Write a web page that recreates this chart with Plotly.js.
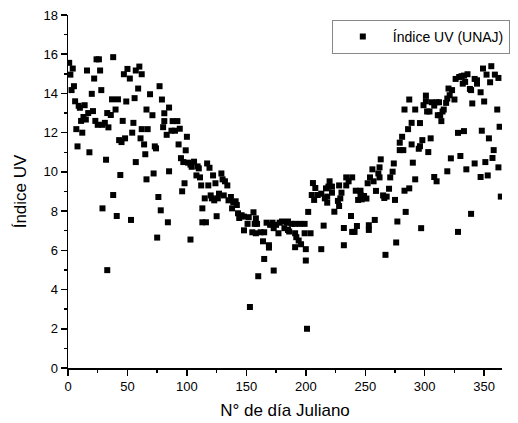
<!DOCTYPE html>
<html>
<head>
<meta charset="utf-8">
<script src="https://cdn.plot.ly/plotly-3.0.1.min.js"></script>
<style>html,body{margin:0;padding:0;background:#fff;}#chart{width:518px;height:423px;}</style>
</head>
<body>
<div id="chart"></div>
<script>
// Day of year (Julian day) and UV index readings, grouped by part of the year
const daysA = [1,4,2,5,3,6,9,10,14,17,21,13,15,11,7,12,8,18,16,24,26,22,27,20,28,23,25,29,31,34,37,42,40,33,36,46,49,38,47,50,52,57,60,62,59,56,55,54,62,67,66,69,43,45,48,61,64,65,57,32,44,66,38,29,41,53,33];
const uvA = [15.56,15.27,14.96,14.37,14.17,13.6,13.37,13.27,13.4,13.0,13.1,12.8,12.67,12.6,12.18,12.0,11.3,11.0,15.17,15.74,15.74,14.76,15.17,13.98,14.17,12.6,12.4,12.4,12.5,12.27,13.7,13.7,13.18,13.0,12.9,12.6,13.59,15.85,14.98,15.25,14.76,15.17,15.37,14.98,14.25,13.76,12.5,12.0,12.18,12.18,13.18,13.96,11.62,11.52,11.71,11.71,11.4,10.9,10.5,10.62,9.84,9.62,8.82,8.14,7.75,7.55,4.99];

const daysB = [77,79,85,81,71,81,88,92,80,87,90,94,83,100,73,74,93,99,95,97,101,103,106,104,109,110,117,119,108,111,122,129,130,132,134,124,118,112,98,96,72,85,76,78,84,75,103,113,113,116,125,115,120,123,127,126,131,135,137,139,141,138,142,143,144,121];
const uvB = [14.37,13.69,13.28,12.99,12.89,12.59,12.59,12.59,12.28,12.1,12.1,12.2,11.89,11.79,11.3,11.2,11.4,11.1,10.7,10.5,10.47,10.37,10.52,10.26,10.28,10.18,10.43,10.21,9.82,9.72,9.82,9.92,9.62,9.52,9.31,9.42,9.31,9.31,9.42,9.01,9.92,10.03,8.72,8.04,7.43,6.65,6.55,8.14,7.43,7.43,7.74,8.65,8.8,8.55,8.89,8.65,8.8,8.55,8.72,8.45,8.5,8.14,8.31,7.89,7.65,8.65];

const daysC = [146,148,152,156,158,151,148,155,157,159,158,162,165,167,170,172,175,178,180,184,185,188,191,195,199,173,177,182,185,186,191,192,194,196,199,204,191,200,164,169,169,165,173,160,200,153,201,202,206,208,205,207,210,213,216,217,215,213];
const uvC = [7.79,7.72,7.69,7.94,7.63,7.35,7.02,6.92,7.35,7.35,6.87,6.92,6.92,7.41,7.3,7.41,7.3,7.41,7.47,7.41,7.47,7.35,7.35,7.35,7.35,7.13,6.87,7.13,7.04,6.96,6.87,6.67,6.5,6.31,6.87,6.87,6.16,6.06,6.46,6.26,6.14,5.56,4.97,4.68,5.48,3.11,2.0,7.96,9.43,9.18,8.82,8.57,8.82,8.89,8.65,9.16,7.26,6.06];

const daysD = [220,219,222,222,218,218,228,230,229,227,228,224,234,239,236,234,238,232,239,241,243,232,242,244,246,247,249,251,246,252,254,256,257,259,261,262,262,263,253,253,258,265,266,268,270,267,271,273,274,275,277,284,276,283,287,279,282,279,281,286,289,283,287,289,290,292,292];
const uvD = [9.52,9.25,9.25,8.94,8.74,8.43,9.31,8.94,8.65,8.52,8.26,7.97,9.72,9.72,9.52,9.31,7.75,7.14,6.94,6.94,7.24,6.26,9.04,8.57,9.04,8.6,8.77,8.64,8.82,9.42,9.72,10.13,9.52,9.03,9.92,9.72,10.23,10.64,7.04,7.28,7.55,8.8,8.67,8.74,9.14,5.77,9.72,10.01,10.43,8.57,7.47,7.96,6.4,9.04,9.16,11.11,11.11,11.49,11.79,12.18,12.5,13.18,13.69,11.4,10.47,9.62,13.18];

const daysE = [296,295,296,298,303,305,297,301,299,301,302,304,306,308,310,312,311,313,314,315,316,318,319,321,320,323,325,326,329,331,333,336,332,334,338,339,342,344,344,347,349,352,356,359,362,355,340,350,361,328,333,348,363,354,322,330,319,335,342,351,357,358,362,347,353,308,310,364,339,328];
const uvE = [12.49,11.18,11.31,11.62,11.01,11.71,7.13,13.89,13.4,13.6,13.08,13.08,13.55,13.38,13.55,13.55,12.89,12.89,12.59,13.08,13.18,13.52,13.74,13.91,14.25,14.17,13.69,14.74,14.84,14.88,14.91,14.98,14.5,14.59,14.23,14.17,14.74,14.67,14.5,14.06,15.27,14.96,15.39,14.96,14.79,14.57,13.49,13.59,13.18,11.99,12.08,12.1,12.3,11.71,10.69,10.81,10.03,10.13,10.43,10.5,10.71,11.11,10.23,9.74,9.82,9.74,9.52,8.74,7.86,6.94];

const seriesName = "Índice UV (UNAJ)";
const xTitle = "N° de día Juliano";
const yTitle = "Índice UV";

const days = daysA.concat(daysB, daysC, daysD, daysE);
const uv = uvA.concat(uvB, uvC, uvD, uvE);

const font = "'Liberation Sans', Arial, sans-serif";

const trace = {
  x: days, y: uv, type: "scatter", mode: "markers", name: seriesName,
  marker: {symbol: "square", size: 6, color: "#000"},
  showlegend: true
};

const axisCommon = {
  showline: true, linecolor: "#000", linewidth: 1.5, mirror: false,
  ticks: "outside", ticklen: 6, tickwidth: 1.5, tickcolor: "#000",
  showgrid: false, zeroline: false,
  tickfont: {family: font, size: 13, color: "#000"}
};

const layout = {
  width: 518, height: 423,
  margin: {l: 68, r: 8, t: 15, b: 55},
  paper_bgcolor: "#fff", plot_bgcolor: "#fff",
  font: {family: font, color: "#000"},
  showlegend: true,
  legend: {
    x: 1.018, xanchor: "right", y: 0.986, yanchor: "top",
    bordercolor: "#888", borderwidth: 1, bgcolor: "#fff",
    font: {family: font, size: 14, color: "#000"},
    itemwidth: 50
  },
  xaxis: Object.assign({}, axisCommon, {
    range: [0, 365], tick0: 0, dtick: 50,
    minor: {dtick: 25, ticks: "outside", ticklen: 3, tickwidth: 1.5, tickcolor: "#000"},
    title: {text: xTitle, font: {family: font, size: 17, color: "#000"}, standoff: 11}
  }),
  yaxis: Object.assign({}, axisCommon, {
    range: [0, 18], tick0: 0, dtick: 2,
    minor: {dtick: 1, ticks: "outside", ticklen: 3, tickwidth: 1.5, tickcolor: "#000"},
    title: {text: yTitle, font: {family: font, size: 17, color: "#000"}, standoff: 12}
  })
};

Plotly.newPlot("chart", [trace], layout, {displayModeBar: false, staticPlot: true});
</script>
</body>
</html>
